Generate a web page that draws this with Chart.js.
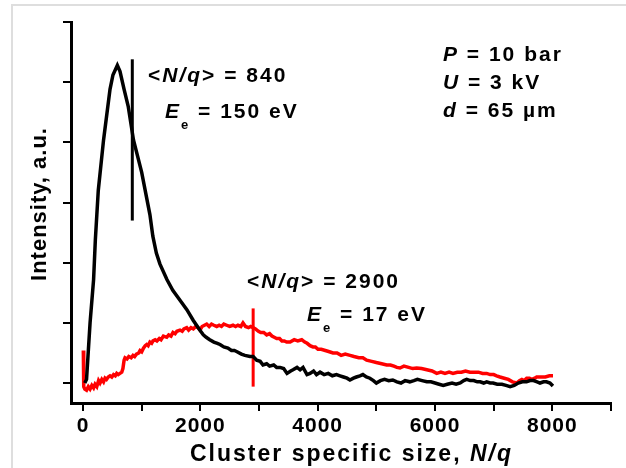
<!DOCTYPE html>
<html>
<head>
<meta charset="utf-8">
<script src="https://cdn.jsdelivr.net/npm/chart.js@4.4.1/dist/chart.umd.min.js"></script>
<style>
  html, body { margin: 0; padding: 0; background: #fff; }
  #wrap { width: 626px; height: 468px; }
</style>
</head>
<body>
<div id="wrap"><canvas id="spectra" width="626" height="468"></canvas></div>
<script>
// black curve, E_e = 150 eV
var blackX = [30, 60, 120, 180, 210, 260, 350, 460, 510, 585, 630, 700, 770, 860, 1000, 1140, 1190, 1250, 1310, 1430,
  1530, 1650, 1770, 1880, 1990, 2050, 2100, 2160, 2230, 2290, 2335, 2400, 2470, 2530, 2580, 2625, 2700, 2760, 2846, 2900,
  2960, 3020, 3068, 3130, 3180, 3250, 3300, 3358, 3420, 3477, 3540, 3580, 3648, 3700, 3750, 3818, 3870, 3930, 3980, 4040,
  4110, 4180, 4250, 4320, 4380, 4440, 4500, 4550, 4610, 4660, 4720, 4770, 4830, 4890, 4950, 5000, 5070, 5140, 5210, 5280,
  5350, 5420, 5490, 5570, 5640, 5700, 5780, 5860, 5930, 6000, 6070, 6140, 6210, 6290, 6360, 6430, 6490, 6540, 6600, 6660,
  6720, 6770, 6830, 6880, 6940, 6990, 7060, 7140, 7210, 7280, 7350, 7420, 7490, 7560, 7620, 7680, 7740, 7790, 7850, 7900,
  7960, 8010];
var blackY = [0.00, 0.03, 0.50, 0.86, 1.19, 1.60, 2.02, 2.44, 2.56, 2.64, 2.59, 2.44, 2.30, 2.02, 1.75, 1.40, 1.22, 1.08, 0.99, 0.86,
  0.77, 0.69, 0.61, 0.52, 0.44, 0.40, 0.38, 0.36, 0.34, 0.33, 0.32, 0.30, 0.29, 0.27, 0.27, 0.26, 0.24, 0.23, 0.22, 0.22,
  0.19, 0.18, 0.15, 0.16, 0.14, 0.15, 0.13, 0.13, 0.12, 0.08, 0.10, 0.11, 0.13, 0.11, 0.13, 0.07, 0.08, 0.10, 0.07, 0.09,
  0.07, 0.08, 0.06, 0.07, 0.06, 0.05, 0.04, 0.025, 0.04, 0.05, 0.06, 0.07, 0.05, 0.04, 0.02, 0.00, 0.02, 0.03, 0.02, 0.025,
  0.01, 0.00, 0.02, 0.01, 0.02, 0.03, 0.02, 0.01, 0.01, 0.00, -0.01, -0.02, -0.01, 0.00, -0.01, 0.00, 0.02, 0.03, 0.02, 0.02,
  0.01, 0.01, 0.00, 0.01, 0.00, 0.00, -0.01, -0.01, -0.02, -0.03, -0.02, 0.00, 0.01, 0.01, 0.02, 0.02, 0.01, 0.00, 0.01, 0.01,
  0.00, -0.025];

// red curve, E_e = 17 eV
var redX = [5, 12, 30, 60, 90, 120, 150, 180, 205, 235, 265, 290, 320, 350, 375, 400, 430, 460, 490, 520,
  550, 574, 600, 630, 660, 680, 700, 716, 750, 780, 820, 852, 880, 910, 950, 972, 1000, 1030, 1060, 1086,
  1110, 1140, 1170, 1193, 1230, 1260, 1300, 1330, 1370, 1427, 1460, 1500, 1534, 1570, 1600, 1653, 1690, 1720, 1767, 1800,
  1840, 1880, 1920, 1960, 1994, 2030, 2070, 2108, 2150, 2190, 2230, 2279, 2320, 2360, 2400, 2449, 2500, 2557, 2600, 2640,
  2690, 2727, 2770, 2820, 2860, 2898, 2940, 2990, 3030, 3080, 3131, 3180, 3220, 3260, 3301, 3350, 3390, 3430, 3472, 3530,
  3600, 3660, 3728, 3780, 3820, 3870, 3920, 3960, 4005, 4060, 4130, 4200, 4261, 4330, 4400, 4470, 4551, 4620, 4700, 4770,
  4835, 4920, 5000, 5090, 5176, 5240, 5300, 5350, 5403, 5470, 5550, 5620, 5688, 5770, 5860, 5950, 6029, 6100, 6170, 6240,
  6306, 6380, 6450, 6520, 6596, 6670, 6740, 6810, 6881, 6940, 7000, 7050, 7107, 7180, 7250, 7320, 7392, 7440, 7480, 7520,
  7563, 7610, 7650, 7700, 7733, 7800, 7880, 7950, 8011];
var redY = [0.27, -0.03, -0.05, -0.06, -0.03, -0.05, -0.02, -0.04, -0.01, -0.03, 0.02, 0.00, 0.03, 0.01, 0.04, 0.03, 0.05, 0.06, 0.05, 0.07,
  0.06, 0.08, 0.07, 0.08, 0.09, 0.12, 0.19, 0.21, 0.20, 0.22, 0.21, 0.23, 0.22, 0.24, 0.25, 0.27, 0.26, 0.29, 0.31, 0.32,
  0.31, 0.34, 0.33, 0.35, 0.36, 0.35, 0.37, 0.36, 0.39, 0.38, 0.40, 0.39, 0.42, 0.41, 0.43, 0.44, 0.43, 0.45, 0.46, 0.44,
  0.46, 0.45, 0.47, 0.46, 0.44, 0.47, 0.48, 0.49, 0.47, 0.49, 0.48, 0.47, 0.48, 0.47, 0.49, 0.48, 0.47, 0.48, 0.47, 0.48,
  0.47, 0.50, 0.47, 0.46, 0.47, 0.46, 0.45, 0.43, 0.42, 0.42, 0.40, 0.41, 0.39, 0.38, 0.37, 0.37, 0.35, 0.35, 0.34, 0.34,
  0.36, 0.35, 0.36, 0.34, 0.33, 0.31, 0.30, 0.30, 0.28, 0.28, 0.27, 0.26, 0.25, 0.25, 0.23, 0.24, 0.23, 0.22, 0.21, 0.21,
  0.19, 0.18, 0.17, 0.16, 0.15, 0.15, 0.14, 0.13, 0.125, 0.14, 0.13, 0.12, 0.125, 0.12, 0.11, 0.10, 0.08, 0.09, 0.08, 0.09,
  0.08, 0.09, 0.09, 0.10, 0.09, 0.09, 0.09, 0.08, 0.08, 0.07, 0.07, 0.06, 0.05, 0.04, 0.03, 0.01, 0.00, 0.02, 0.03, 0.02,
  0.04, 0.04, 0.03, 0.04, 0.05, 0.05, 0.05, 0.06, 0.06];

// mean size markers <N/q>
var markerX = [840, 2900];
var markerLow = [1.35, -0.03];
var markerHigh = [2.69, 0.62];
var markerColors = ['#000000', '#ff0000'];

var xTicks = [0, 1000, 2000, 3000, 4000, 5000, 6000, 7000, 8000, 9000];
var yTicks = [0, 0.5, 1, 1.5, 2, 2.5, 3];

var FONT = '"Liberation Sans", Arial, sans-serif';

function toPoints(xs, ys) {
	var pts = [];
	for (var i = 0; i < xs.length; i++) pts.push({x: xs[i], y: ys[i]});
	return pts;
}

// writes a row of text pieces, each with its own style
function drawRich(ctx, x, y, parts) {
	var cx = x;
	parts.forEach(function(p) {
		ctx.font = (p.i ? 'italic ' : '') + 'bold ' + (p.s || 21) + 'px ' + FONT;
		ctx.fillText(p.t, cx, y + (p.dy || 0));
		cx += ctx.measureText(p.t).width;
	});
}

var textPlugin = {
	id: 'texts',
	beforeDraw: function(chart) {
		var ctx = chart.ctx;
		ctx.save();
		ctx.fillStyle = '#fff';
		ctx.fillRect(0, 0, chart.width, chart.height);
		// light frame of the figure
		ctx.strokeStyle = '#dedede';
		ctx.lineWidth = 2;
		ctx.beginPath();
		ctx.moveTo(626, 5);
		ctx.lineTo(12, 5);
		ctx.lineTo(12, 468);
		ctx.stroke();
		ctx.restore();
		ctx.letterSpacing = '1px';
	},
	afterDraw: function(chart) {
		var ctx = chart.ctx;
		ctx.save();
		ctx.fillStyle = '#000';
		ctx.textBaseline = 'middle';
		ctx.textAlign = 'left';
		ctx.letterSpacing = '2px';

		drawRich(ctx, 148, 76, [{t: '<'}, {t: 'N/q', i: true}, {t: '> = ' + markerX[0]}]);
		drawRich(ctx, 165, 112, [{t: 'E', i: true}, {t: 'e', s: 13, dy: 13}, {t: ' = 150 eV'}]);

		drawRich(ctx, 247, 282, [{t: '<'}, {t: 'N/q', i: true}, {t: '> = ' + markerX[1]}]);
		drawRich(ctx, 307, 315, [{t: 'E', i: true}, {t: 'e', s: 13, dy: 13}, {t: ' = 17 eV'}]);

		drawRich(ctx, 443, 55, [{t: 'P', i: true}, {t: ' = 10 bar'}]);
		drawRich(ctx, 443, 83, [{t: 'U', i: true}, {t: ' = 3 kV'}]);
		drawRich(ctx, 443, 111, [{t: 'd', i: true}, {t: ' = 65 µm'}]);

		// axis titles
		drawRich(ctx, 190, 455, [{t: 'Cluster specific size, ', s: 23}, {t: 'N/q', i: true, s: 23}]);

		ctx.letterSpacing = '1px';
		ctx.translate(40, 204);
		ctx.rotate(-Math.PI / 2);
		ctx.textAlign = 'center';
		ctx.font = 'bold 22px ' + FONT;
		ctx.fillText('Intensity, a.u.', 0, 0);
		ctx.restore();
	}
};

var datasets = [
	{
		data: toPoints(blackX, blackY),
		borderColor: '#000000',
		borderWidth: 3.5,
		pointRadius: 0,
		tension: 0
	},
	{
		data: toPoints(redX, redY),
		borderColor: '#ff0000',
		borderWidth: 3.5,
		pointRadius: 0,
		tension: 0
	}
];
for (var m = 0; m < markerX.length; m++) {
	datasets.push({
		data: [{x: markerX[m], y: markerLow[m]}, {x: markerX[m], y: markerHigh[m]}],
		borderColor: markerColors[m],
		borderWidth: 3,
		pointRadius: 0
	});
}

var axisGrid = {
	display: true,
	drawOnChartArea: false,
	drawTicks: true,
	tickLength: 8,
	lineWidth: 2,
	color: '#000'
};

new Chart(document.getElementById('spectra').getContext('2d'), {
	type: 'line',
	data: { datasets: datasets },
	options: {
		responsive: false,
		animation: false,
		events: [],
		layout: { padding: { top: 22, right: 15, left: 0, bottom: 0 } },
		plugins: {
			legend: { display: false },
			tooltip: { enabled: false }
		},
		scales: {
			x: {
				type: 'linear',
				min: -205,
				max: 9000,
				grid: axisGrid,
				border: { display: true, color: '#000', width: 3 },
				afterBuildTicks: function(scale) {
					scale.ticks = xTicks.map(function(v) { return {value: v}; });
				},
				afterFit: function(scale) { scale.height = 65; },
				ticks: {
					color: '#000',
					padding: 3,
					maxRotation: 0,
					autoSkip: false,
					font: { family: FONT, size: 21, weight: 'bold' },
					callback: function(v) { return v % 2000 === 0 && v <= 8000 ? String(v) : ''; }
				}
			},
			y: {
				type: 'linear',
				min: -0.166,
				max: 3,
				grid: axisGrid,
				border: { display: true, color: '#000', width: 3 },
				afterBuildTicks: function(scale) {
					scale.ticks = yTicks.map(function(v) { return {value: v}; });
				},
				afterFit: function(scale) { scale.width = 71; },
				ticks: {
					callback: function() { return ''; }
				}
			}
		}
	},
	plugins: [textPlugin]
});
</script>
</body>
</html>
